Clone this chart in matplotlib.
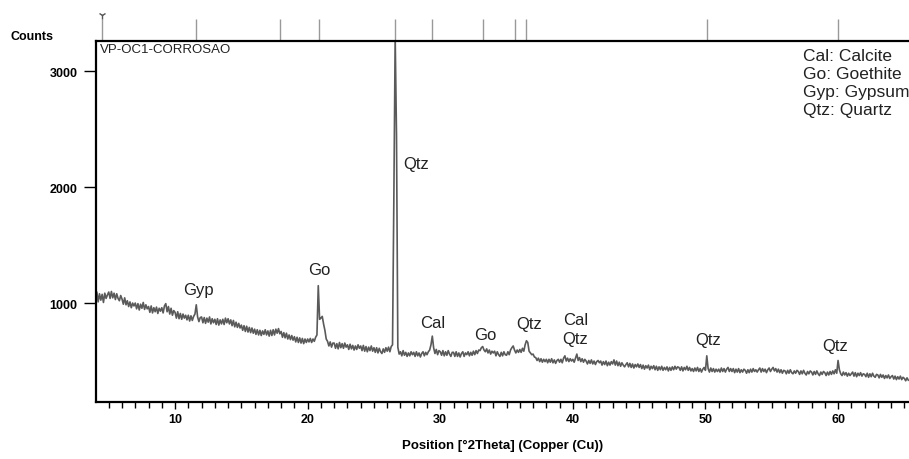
import numpy as np
from matplotlib import pyplot as plt
from matplotlib import transforms

plt.rcParams['font.family'] = ['Liberation Sans', 'DejaVu Sans']

# XRD scan, 0.1 deg steps from 4.0 to 65.3 (one row per degree)
counts = [
    1030, 1095, 1010, 1080, 1025, 1075, 1005, 1085, 1040, 1070,  # 4
    1095, 1040, 1100, 1045, 1085, 1030, 1080, 1040, 1020, 1065,  # 5
    1035, 990, 1045, 985, 1020, 970, 1010, 960, 1000, 975,       # 6
    1000, 950, 995, 940, 990, 955, 1005, 945, 985, 950,          # 7
    970, 920, 975, 915, 960, 925, 965, 910, 955, 930,            # 8
    960, 915, 975, 995, 925, 970, 905, 955, 895, 935,            # 9
    920, 870, 925, 865, 910, 860, 905, 870, 895, 855,            # 10
    895, 845, 890, 850, 885, 905, 985, 880, 840, 875,            # 11
    880, 830, 875, 825, 870, 835, 880, 820, 865, 830,            # 12
    860, 815, 865, 810, 855, 820, 860, 815, 870, 830,            # 13
    865, 820, 855, 805, 850, 795, 835, 790, 825, 785,            # 14
    810, 765, 805, 755, 800, 750, 790, 745, 785, 740,            # 15
    775, 730, 770, 725, 765, 720, 760, 730, 770, 725,            # 16
    760, 715, 765, 720, 770, 725, 775, 740, 780, 735,            # 17
    755, 705, 745, 700, 740, 690, 725, 685, 720, 680,            # 18
    710, 665, 705, 660, 700, 655, 695, 650, 690, 660,            # 19
    690, 665, 695, 660, 690, 670, 705, 725, 1150, 860,           # 20
    870, 885, 820, 765, 690, 670, 630, 665, 620, 655,            # 21
    655, 610, 650, 605, 660, 615, 650, 610, 655, 620,            # 22
    640, 600, 645, 605, 635, 595, 630, 600, 640, 610,            # 23
    630, 590, 635, 585, 625, 580, 620, 590, 630, 585,            # 24
    615, 575, 615, 570, 610, 580, 565, 605, 575, 615,            # 25
    585, 620, 580, 625, 640, 1900, 3300, 2450, 620, 560,         # 26
    580, 545, 590, 550, 575, 540, 570, 545, 580, 555,            # 27
    575, 540, 580, 545, 570, 535, 565, 580, 545, 575,            # 28
    555, 580, 595, 640, 715, 615, 565, 600, 555, 590,            # 29
    580, 550, 590, 545, 580, 550, 590, 560, 540, 575,            # 30
    575, 540, 580, 540, 570, 535, 565, 580, 540, 570,            # 31
    555, 580, 545, 575, 550, 585, 555, 590, 565, 595,            # 32
    590, 615, 625, 595, 580, 605, 570, 595, 560, 585,            # 33
    570, 585, 545, 580, 555, 540, 575, 545, 580, 555,            # 34
    550, 580, 555, 595, 615, 630, 595, 570, 595, 575,            # 35
    600, 575, 610, 585, 640, 675, 660, 585, 570, 555,            # 36
    560, 535, 530, 505, 525, 495, 520, 490, 515, 495,            # 37
    515, 485, 515, 490, 520, 485, 510, 480, 505, 515,            # 38
    490, 515, 485, 525, 545, 500, 525, 495, 520, 500,            # 39
    515, 490, 525, 560, 505, 530, 495, 520, 490, 515,            # 40
    500, 475, 505, 480, 510, 475, 500, 470, 495, 505,            # 41
    485, 500, 465, 495, 470, 500, 460, 490, 465, 495,            # 42
    475, 510, 465, 500, 460, 490, 455, 485, 465, 450,            # 43
    470, 485, 450, 480, 445, 475, 440, 470, 450, 475,            # 44
    445, 470, 435, 465, 430, 460, 440, 465, 425, 455,            # 45
    435, 460, 425, 455, 420, 450, 425, 455, 420, 445,            # 46
    425, 450, 415, 445, 420, 450, 425, 455, 430, 450,            # 47
    445, 420, 450, 415, 445, 425, 455, 420, 445, 415,            # 48
    435, 410, 440, 415, 445, 410, 435, 405, 430, 445,            # 49
    420, 545, 435, 405, 440, 410, 435, 405, 430, 410,            # 50
    430, 405, 440, 410, 435, 405, 430, 445, 410, 435,            # 51
    410, 435, 400, 430, 405, 435, 400, 425, 405, 430,            # 52
    420, 395, 425, 400, 430, 405, 435, 410, 425, 405,            # 53
    425, 440, 405, 435, 410, 430, 400, 425, 440, 410,            # 54
    430, 445, 415, 435, 405, 430, 400, 425, 395, 420,            # 55
    415, 390, 420, 395, 425, 400, 390, 415, 395, 420,            # 56
    410, 385, 415, 390, 420, 395, 380, 410, 390, 415,            # 57
    405, 380, 410, 385, 415, 390, 375, 405, 385, 410,            # 58
    400, 375, 405, 380, 410, 385, 415, 390, 425, 395,            # 59
    505, 425, 390, 375, 405, 380, 400, 370, 395, 375,            # 60
    390, 405, 370, 400, 365, 395, 375, 400, 370, 390,            # 61
    385, 365, 395, 360, 390, 365, 395, 370, 360, 385,            # 62
    380, 355, 385, 360, 380, 350, 375, 355, 380, 350,            # 63
    365, 375, 345, 370, 340, 365, 345, 370, 340, 360,            # 64
    350, 330, 355, 335,                                          # 65
]
two_theta = np.round(4.0 + 0.1 * np.arange(len(counts)), 1)

# reference peak markers above the frame
ref_lines = [4.5, 11.6, 17.9, 20.85, 26.6, 29.4, 33.2, 35.6, 36.5, 50.1, 60.0]

# phase labels: (text, position, counts)
peak_labels = ['Gyp', 'Go', 'Qtz', 'Cal', 'Go', 'Qtz', 'Cal\nQtz', 'Qtz', 'Qtz']
label_x = [11.8, 20.85, 28.2, 29.45, 33.4, 36.7, 40.2, 50.2, 59.8]
label_y = [1120, 1290, 2200, 836, 733, 828, 776, 690, 638]

legend_text = 'Cal: Calcite\nGo: Goethite\nGyp: Gypsum\nQtz: Quartz'

fig = plt.figure(figsize=(9.09, 4.6), dpi=100)
ax = fig.add_axes([95.5 / 909, 57 / 460, (909 - 95.5) / 909, 361 / 460])

ax.plot(two_theta, counts, color='#5a5a5a', lw=1.2)
ax.set_xlim(4.0, 65.35)
ax.set_ylim(147, 3259)

ax.spines['right'].set_visible(False)
for s in ['top', 'left', 'bottom']:
    ax.spines[s].set_linewidth(1.6)

ax.set_xticks([10, 20, 30, 40, 50, 60])
ax.set_xticks(np.arange(5, 66, 1), minor=True)
ax.set_yticks([1000, 2000, 3000])
ax.tick_params(axis='x', which='major', direction='out', length=5, width=1, pad=3, labelsize=9)
ax.tick_params(axis='x', which='minor', direction='out', length=4, width=1)
ax.tick_params(axis='y', direction='out', length=9, width=1, pad=4, labelsize=9)
for lbl in ax.get_xticklabels() + ax.get_yticklabels():
    lbl.set_fontweight('bold')

ax.set_xlabel('Position [°2Theta] (Copper (Cu))', fontsize=9.5, fontweight='bold', labelpad=10)
fig.text(32 / 909, 1 - 37 / 460, 'Counts', fontsize=9, fontweight='bold', ha='center', va='center')

# reference markers above the frame
trans = transforms.blended_transform_factory(ax.transData, ax.transAxes)
ax.vlines(ref_lines, 1.0, 1.061, transform=trans, color='#999999', lw=1, clip_on=False)
ax.plot([ref_lines[0]], [1.072], marker='1', color='#555555', ms=6, mew=1,
        transform=trans, clip_on=False)

ax.text(0.006, 0.995, 'VP-OC1-CORROSAO', transform=ax.transAxes, fontsize=9.5,
        ha='left', va='top', color='#222222')

for t, x, y in zip(peak_labels, label_x, label_y):
    ax.text(x, y, t, fontsize=12, ha='center', va='center', color='#222222', linespacing=1.3)

fig.text(803 / 909, 1 - 49 / 460, legend_text, fontsize=12.5, ha='left', va='top',
         color='#222222', linespacing=1.25)

fig.savefig('out.png', dpi=100)
